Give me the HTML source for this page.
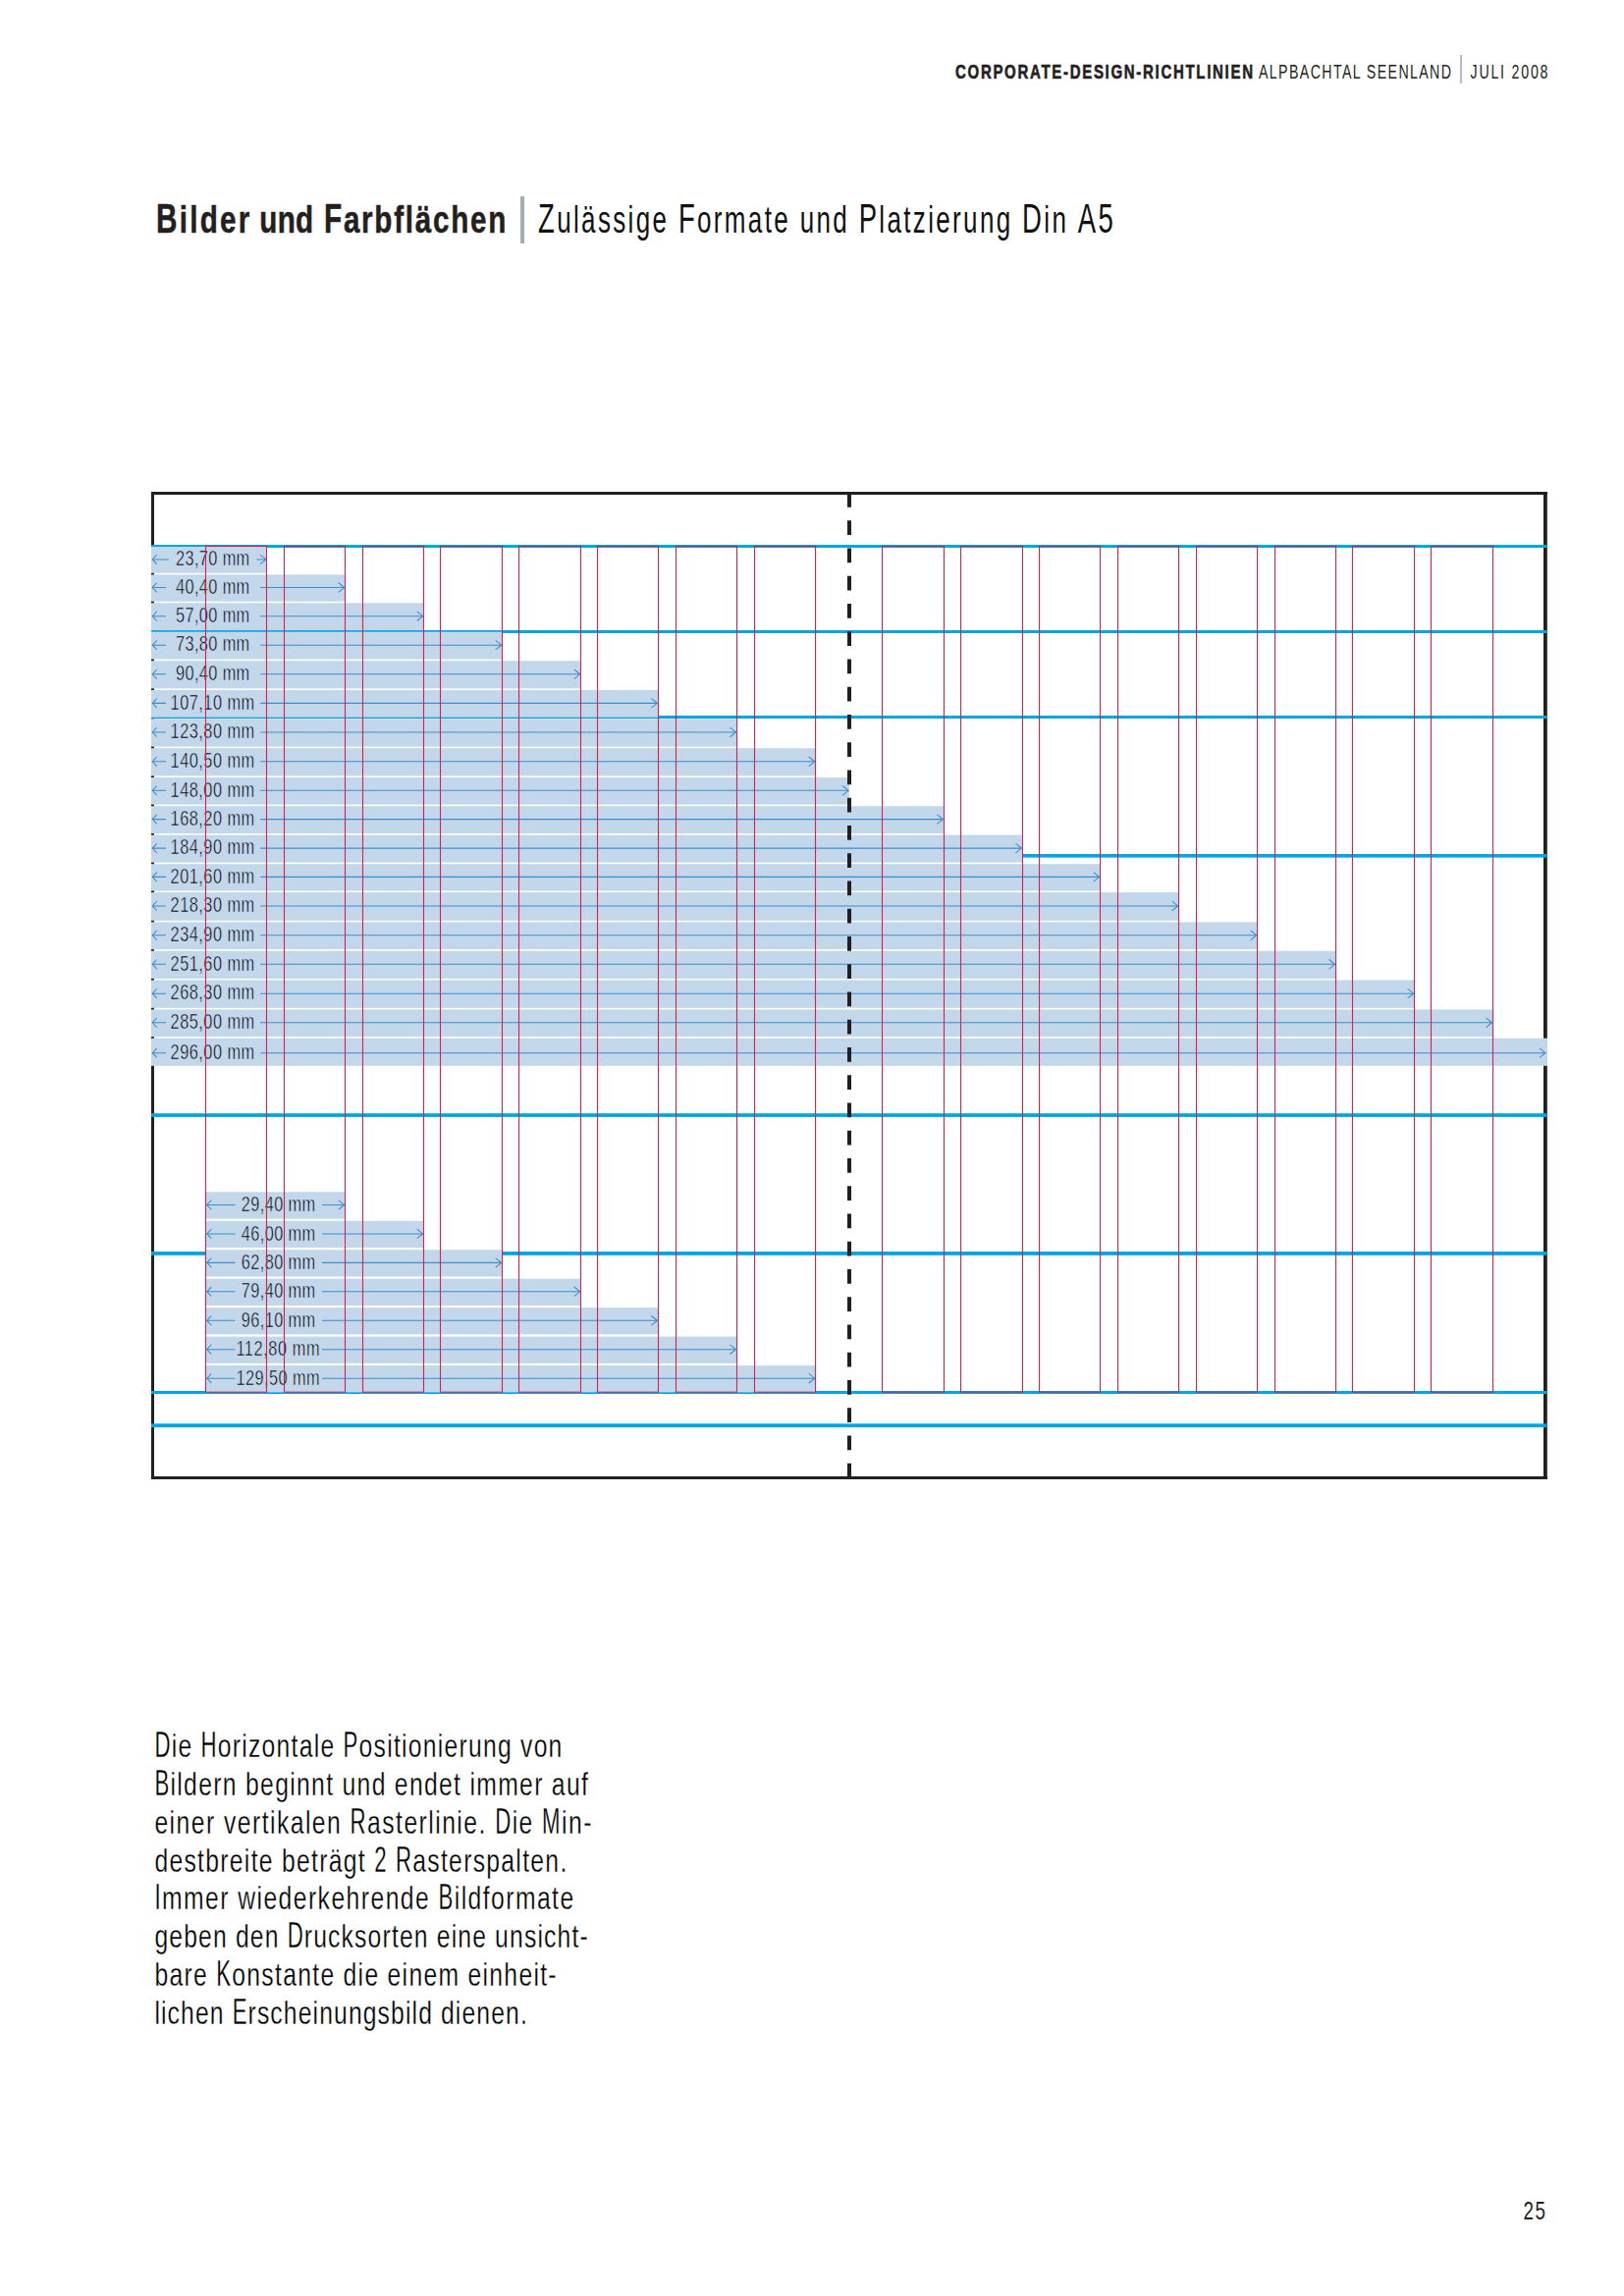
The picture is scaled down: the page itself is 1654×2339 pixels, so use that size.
<!DOCTYPE html><html><head><meta charset="utf-8"><style>html,body{margin:0;padding:0;background:#fff;}svg{display:block;}text{font-family:"Liberation Sans",sans-serif;}</style></head><body>
<svg width="1654" height="2339" viewBox="0 0 1654 2339">
<rect x="0" y="0" width="1654" height="2339" fill="#fff"/>
<text transform="translate(973.0 79.8) scale(0.75 1)" font-size="20" font-weight="bold" fill="#231f20" textLength="404.00" lengthAdjust="spacing" stroke="#231f20" stroke-width="0.6">CORPORATE-DESIGN-RICHTLINIEN</text>
<text transform="translate(1282.0 79.8) scale(0.71 1)" font-size="20" font-weight="normal" fill="#231f20" textLength="276.06" lengthAdjust="spacing" >ALPBACHTAL SEENLAND</text>
<rect x="1487.2" y="56" width="1.6" height="29" fill="#a3adb5"/>
<text transform="translate(1497.5 79.8) scale(0.71 1)" font-size="20" font-weight="normal" fill="#231f20" textLength="111.27" lengthAdjust="spacing" >JULI 2008</text>
<text transform="translate(159.00 237.0) scale(0.708 1)" font-size="42" font-weight="bold" fill="#231f20" xml:space="preserve" style="white-space:pre" stroke="#231f20" stroke-width="0.5">B</text>
<text transform="translate(182.74 237.0) scale(0.779 1)" font-size="38" font-weight="bold" fill="#231f20" textLength="91.90" lengthAdjust="spacing" xml:space="preserve" style="white-space:pre" stroke="#231f20" stroke-width="0.5">ilder</text>
<text transform="translate(264.30 237.0) scale(0.779 1)" font-size="38" font-weight="bold" fill="#231f20" textLength="70.31" lengthAdjust="spacing" xml:space="preserve" style="white-space:pre" stroke="#231f20" stroke-width="0.5">und</text>
<text transform="translate(330.00 237.0) scale(0.708 1)" font-size="42" font-weight="bold" fill="#231f20" xml:space="preserve" style="white-space:pre" stroke="#231f20" stroke-width="0.5">F</text>
<text transform="translate(349.90 237.0) scale(0.779 1)" font-size="38" font-weight="bold" fill="#231f20" textLength="212.28" lengthAdjust="spacing" xml:space="preserve" style="white-space:pre" stroke="#231f20" stroke-width="0.5">arbflächen</text>
<rect x="530" y="200" width="4" height="48" fill="#a3adb5"/>
<text transform="translate(548.00 237.0) scale(0.655 1)" font-size="42" font-weight="normal" fill="#111" xml:space="preserve" style="white-space:pre" >Z</text>
<text transform="translate(567.15 237.0) scale(0.684 1)" font-size="38" font-weight="normal" fill="#111" textLength="177.47" lengthAdjust="spacing" xml:space="preserve" style="white-space:pre" >ulässige </text>
<text transform="translate(690.90 237.0) scale(0.655 1)" font-size="42" font-weight="normal" fill="#111" xml:space="preserve" style="white-space:pre" >F</text>
<text transform="translate(710.05 237.0) scale(0.684 1)" font-size="38" font-weight="normal" fill="#111" textLength="237.19" lengthAdjust="spacing" xml:space="preserve" style="white-space:pre" >ormate und </text>
<text transform="translate(874.63 237.0) scale(0.655 1)" font-size="42" font-weight="normal" fill="#111" xml:space="preserve" style="white-space:pre" >P</text>
<text transform="translate(895.33 237.0) scale(0.684 1)" font-size="38" font-weight="normal" fill="#111" textLength="209.70" lengthAdjust="spacing" xml:space="preserve" style="white-space:pre" >latzierung </text>
<text transform="translate(1041.12 237.0) scale(0.655 1)" font-size="42" font-weight="normal" fill="#111" xml:space="preserve" style="white-space:pre" >D</text>
<text transform="translate(1063.33 237.0) scale(0.684 1)" font-size="38" font-weight="normal" fill="#111" textLength="47.01" lengthAdjust="spacing" xml:space="preserve" style="white-space:pre" >in </text>
<text transform="translate(1097.84 237.0) scale(0.655 1)" font-size="42" font-weight="normal" fill="#111" textLength="54.96" lengthAdjust="spacing" xml:space="preserve" style="white-space:pre" >A5</text>
<rect x="154" y="501" width="1422" height="3" fill="#231f20"/>
<rect x="154" y="1504" width="1422" height="3" fill="#231f20"/>
<rect x="154" y="501" width="3" height="1006" fill="#231f20"/>
<rect x="1572" y="501" width="3.8" height="1006" fill="#231f20"/>
<rect x="154" y="555" width="1421.5" height="3" fill="#00a5e3"/>
<rect x="154" y="642" width="1421.5" height="3" fill="#00a5e3"/>
<rect x="154" y="729" width="1421.5" height="3" fill="#00a5e3"/>
<rect x="154" y="870" width="1421.5" height="3.6" fill="#00a5e3"/>
<rect x="154" y="1134.2" width="1421.5" height="3.7" fill="#00a5e3"/>
<rect x="154" y="1275" width="1421.5" height="3.8" fill="#00a5e3"/>
<rect x="154" y="1417" width="1421.5" height="3" fill="#00a5e3"/>
<rect x="154" y="1450.3" width="1421.5" height="3.8" fill="#00a5e3"/>
<rect x="154" y="557.0" width="117.75" height="26.799999999999955" fill="#c3d7ea"/>
<rect x="154" y="585.4" width="197.5" height="27.299999999999955" fill="#c3d7ea"/>
<rect x="154" y="614.3" width="277.5" height="27.800000000000068" fill="#c3d7ea"/>
<rect x="154" y="643.7" width="357.5" height="27.899999999999977" fill="#c3d7ea"/>
<rect x="154" y="673.2" width="437.5" height="28.199999999999932" fill="#c3d7ea"/>
<rect x="154" y="703" width="516.25" height="27.699999999999932" fill="#c3d7ea"/>
<rect x="154" y="732.3" width="596.25" height="28.300000000000068" fill="#c3d7ea"/>
<rect x="154" y="762.2" width="676.5" height="28.199999999999932" fill="#c3d7ea"/>
<rect x="154" y="792" width="711" height="27.600000000000023" fill="#c3d7ea"/>
<rect x="154" y="821.2" width="807.25" height="27.799999999999955" fill="#c3d7ea"/>
<rect x="154" y="850.6" width="887.25" height="28.0" fill="#c3d7ea"/>
<rect x="154" y="880.2" width="966.5" height="27.299999999999955" fill="#c3d7ea"/>
<rect x="154" y="909.1" width="1046.5" height="28.699999999999932" fill="#c3d7ea"/>
<rect x="154" y="939.4" width="1126.5" height="27.700000000000045" fill="#c3d7ea"/>
<rect x="154" y="968.7" width="1206.4" height="28.199999999999932" fill="#c3d7ea"/>
<rect x="154" y="998.5" width="1286.5" height="28.300000000000182" fill="#c3d7ea"/>
<rect x="154" y="1028.4" width="1366.3" height="27.700000000000045" fill="#c3d7ea"/>
<rect x="154" y="1057.7" width="1422" height="28.09999999999991" fill="#c3d7ea"/>
<rect x="209.5" y="1214.30" width="142.0" height="27.30" fill="#c3d7ea"/>
<rect x="209.5" y="1243.75" width="222.0" height="27.30" fill="#c3d7ea"/>
<rect x="209.5" y="1273.21" width="302.0" height="27.30" fill="#c3d7ea"/>
<rect x="209.5" y="1302.66" width="382.0" height="27.30" fill="#c3d7ea"/>
<rect x="209.5" y="1332.12" width="460.75" height="27.30" fill="#c3d7ea"/>
<rect x="209.5" y="1361.57" width="540.75" height="27.30" fill="#c3d7ea"/>
<rect x="209.5" y="1391.03" width="621.0" height="27.30" fill="#c3d7ea"/>
<g stroke="#3b8fca" stroke-width="1.05" fill="none"><path d="M155.2 569.90 L172 569.90 M159.8 565.10 L155.2 569.90 L159.8 574.70"/><path d="M261.3 569.90 L270.95 569.90 M264.95 565.10 L270.95 569.90 L264.95 574.70"/></g>
<text transform="translate(179.0 576.1) scale(0.77 1)" font-size="21.2" font-weight="normal" fill="#000" textLength="97.66" lengthAdjust="spacing" stroke="#c3d7ea" stroke-width="0.5">23,70 mm</text>
<g stroke="#3b8fca" stroke-width="1.05" fill="none"><path d="M155.2 598.55 L169.0 598.55 M159.8 593.75 L155.2 598.55 L159.8 603.35"/><path d="M265.2 598.55 L350.7 598.55 M344.7 593.75 L350.7 598.55 L344.7 603.35"/></g>
<text transform="translate(179.0 604.75) scale(0.77 1)" font-size="21.2" font-weight="normal" fill="#000" textLength="97.66" lengthAdjust="spacing" stroke="#c3d7ea" stroke-width="0.5">40,40 mm</text>
<g stroke="#3b8fca" stroke-width="1.05" fill="none"><path d="M155.2 627.70 L169.0 627.70 M159.8 622.90 L155.2 627.70 L159.8 632.50"/><path d="M265.2 627.70 L430.7 627.70 M424.7 622.90 L430.7 627.70 L424.7 632.50"/></g>
<text transform="translate(179.0 633.9) scale(0.77 1)" font-size="21.2" font-weight="normal" fill="#000" textLength="97.66" lengthAdjust="spacing" stroke="#c3d7ea" stroke-width="0.5">57,00 mm</text>
<g stroke="#3b8fca" stroke-width="1.05" fill="none"><path d="M155.2 657.15 L169.0 657.15 M159.8 652.35 L155.2 657.15 L159.8 661.95"/><path d="M265.2 657.15 L510.7 657.15 M504.7 652.35 L510.7 657.15 L504.7 661.95"/></g>
<text transform="translate(179.0 663.35) scale(0.77 1)" font-size="21.2" font-weight="normal" fill="#000" textLength="97.66" lengthAdjust="spacing" stroke="#c3d7ea" stroke-width="0.5">73,80 mm</text>
<g stroke="#3b8fca" stroke-width="1.05" fill="none"><path d="M155.2 686.80 L169.0 686.80 M159.8 682.00 L155.2 686.80 L159.8 691.60"/><path d="M265.2 686.80 L590.7 686.80 M584.7 682.00 L590.7 686.80 L584.7 691.60"/></g>
<text transform="translate(179.0 693.0) scale(0.77 1)" font-size="21.2" font-weight="normal" fill="#000" textLength="97.66" lengthAdjust="spacing" stroke="#c3d7ea" stroke-width="0.5">90,40 mm</text>
<g stroke="#3b8fca" stroke-width="1.05" fill="none"><path d="M155.2 716.35 L169.0 716.35 M159.8 711.55 L155.2 716.35 L159.8 721.15"/><path d="M265.2 716.35 L669.45 716.35 M663.45 711.55 L669.45 716.35 L663.45 721.15"/></g>
<text transform="translate(173.6 722.55) scale(0.77 1)" font-size="21.2" font-weight="normal" fill="#000" textLength="111.17" lengthAdjust="spacing" stroke="#c3d7ea" stroke-width="0.5">107,10 mm</text>
<g stroke="#3b8fca" stroke-width="1.05" fill="none"><path d="M155.2 745.95 L169.0 745.95 M159.8 741.15 L155.2 745.95 L159.8 750.75"/><path d="M265.2 745.95 L749.45 745.95 M743.45 741.15 L749.45 745.95 L743.45 750.75"/></g>
<text transform="translate(173.6 752.15) scale(0.77 1)" font-size="21.2" font-weight="normal" fill="#000" textLength="111.17" lengthAdjust="spacing" stroke="#c3d7ea" stroke-width="0.5">123,80 mm</text>
<g stroke="#3b8fca" stroke-width="1.05" fill="none"><path d="M155.2 775.80 L169.0 775.80 M159.8 771.00 L155.2 775.80 L159.8 780.60"/><path d="M265.2 775.80 L829.7 775.80 M823.7 771.00 L829.7 775.80 L823.7 780.60"/></g>
<text transform="translate(173.6 782.0) scale(0.77 1)" font-size="21.2" font-weight="normal" fill="#000" textLength="111.17" lengthAdjust="spacing" stroke="#c3d7ea" stroke-width="0.5">140,50 mm</text>
<g stroke="#3b8fca" stroke-width="1.05" fill="none"><path d="M155.2 805.30 L169.0 805.30 M159.8 800.50 L155.2 805.30 L159.8 810.10"/><path d="M265.2 805.30 L864.2 805.30 M858.2 800.50 L864.2 805.30 L858.2 810.10"/></g>
<text transform="translate(173.6 811.5) scale(0.77 1)" font-size="21.2" font-weight="normal" fill="#000" textLength="111.17" lengthAdjust="spacing" stroke="#c3d7ea" stroke-width="0.5">148,00 mm</text>
<g stroke="#3b8fca" stroke-width="1.05" fill="none"><path d="M155.2 834.60 L169.0 834.60 M159.8 829.80 L155.2 834.60 L159.8 839.40"/><path d="M265.2 834.60 L960.45 834.60 M954.45 829.80 L960.45 834.60 L954.45 839.40"/></g>
<text transform="translate(173.6 840.8) scale(0.77 1)" font-size="21.2" font-weight="normal" fill="#000" textLength="111.17" lengthAdjust="spacing" stroke="#c3d7ea" stroke-width="0.5">168,20 mm</text>
<g stroke="#3b8fca" stroke-width="1.05" fill="none"><path d="M155.2 864.10 L169.0 864.10 M159.8 859.30 L155.2 864.10 L159.8 868.90"/><path d="M265.2 864.10 L1040.45 864.10 M1034.45 859.30 L1040.45 864.10 L1034.45 868.90"/></g>
<text transform="translate(173.6 870.3) scale(0.77 1)" font-size="21.2" font-weight="normal" fill="#000" textLength="111.17" lengthAdjust="spacing" stroke="#c3d7ea" stroke-width="0.5">184,90 mm</text>
<g stroke="#3b8fca" stroke-width="1.05" fill="none"><path d="M155.2 893.35 L169.0 893.35 M159.8 888.55 L155.2 893.35 L159.8 898.15"/><path d="M265.2 893.35 L1119.7 893.35 M1113.7 888.55 L1119.7 893.35 L1113.7 898.15"/></g>
<text transform="translate(173.6 899.55) scale(0.77 1)" font-size="21.2" font-weight="normal" fill="#000" textLength="111.17" lengthAdjust="spacing" stroke="#c3d7ea" stroke-width="0.5">201,60 mm</text>
<g stroke="#3b8fca" stroke-width="1.05" fill="none"><path d="M155.2 922.95 L169.0 922.95 M159.8 918.15 L155.2 922.95 L159.8 927.75"/><path d="M265.2 922.95 L1199.7 922.95 M1193.7 918.15 L1199.7 922.95 L1193.7 927.75"/></g>
<text transform="translate(173.6 929.15) scale(0.77 1)" font-size="21.2" font-weight="normal" fill="#000" textLength="111.17" lengthAdjust="spacing" stroke="#c3d7ea" stroke-width="0.5">218,30 mm</text>
<g stroke="#3b8fca" stroke-width="1.05" fill="none"><path d="M155.2 952.75 L169.0 952.75 M159.8 947.95 L155.2 952.75 L159.8 957.55"/><path d="M265.2 952.75 L1279.7 952.75 M1273.7 947.95 L1279.7 952.75 L1273.7 957.55"/></g>
<text transform="translate(173.6 958.95) scale(0.77 1)" font-size="21.2" font-weight="normal" fill="#000" textLength="111.17" lengthAdjust="spacing" stroke="#c3d7ea" stroke-width="0.5">234,90 mm</text>
<g stroke="#3b8fca" stroke-width="1.05" fill="none"><path d="M155.2 982.30 L169.0 982.30 M159.8 977.50 L155.2 982.30 L159.8 987.10"/><path d="M265.2 982.30 L1359.6000000000001 982.30 M1353.6000000000001 977.50 L1359.6000000000001 982.30 L1353.6000000000001 987.10"/></g>
<text transform="translate(173.6 988.5) scale(0.77 1)" font-size="21.2" font-weight="normal" fill="#000" textLength="111.17" lengthAdjust="spacing" stroke="#c3d7ea" stroke-width="0.5">251,60 mm</text>
<g stroke="#3b8fca" stroke-width="1.05" fill="none"><path d="M155.2 1012.15 L169.0 1012.15 M159.8 1007.35 L155.2 1012.15 L159.8 1016.95"/><path d="M265.2 1012.15 L1439.7 1012.15 M1433.7 1007.35 L1439.7 1012.15 L1433.7 1016.95"/></g>
<text transform="translate(173.6 1018.35) scale(0.77 1)" font-size="21.2" font-weight="normal" fill="#000" textLength="111.17" lengthAdjust="spacing" stroke="#c3d7ea" stroke-width="0.5">268,30 mm</text>
<g stroke="#3b8fca" stroke-width="1.05" fill="none"><path d="M155.2 1041.75 L169.0 1041.75 M159.8 1036.95 L155.2 1041.75 L159.8 1046.55"/><path d="M265.2 1041.75 L1519.5 1041.75 M1513.5 1036.95 L1519.5 1041.75 L1513.5 1046.55"/></g>
<text transform="translate(173.6 1047.95) scale(0.77 1)" font-size="21.2" font-weight="normal" fill="#000" textLength="111.17" lengthAdjust="spacing" stroke="#c3d7ea" stroke-width="0.5">285,00 mm</text>
<g stroke="#3b8fca" stroke-width="1.05" fill="none"><path d="M155.2 1072.65 L169.0 1072.65 M159.8 1067.85 L155.2 1072.65 L159.8 1077.45"/><path d="M265.2 1072.65 L1574.0 1072.65 M1568.0 1067.85 L1574.0 1072.65 L1568.0 1077.45"/></g>
<text transform="translate(173.6 1078.85) scale(0.77 1)" font-size="21.2" font-weight="normal" fill="#000" textLength="111.17" lengthAdjust="spacing" stroke="#c3d7ea" stroke-width="0.5">296,00 mm</text>
<g stroke="#3b8fca" stroke-width="1.05" fill="none"><path d="M210.7 1227.45 L239.5 1227.45 M215.3 1222.65 L210.7 1227.45 L215.3 1232.25"/><path d="M328 1227.45 L350.7 1227.45 M344.7 1222.65 L350.7 1227.45 L344.7 1232.25"/></g>
<text transform="translate(245.8 1234.05) scale(0.77 1)" font-size="21.2" font-weight="normal" fill="#000" textLength="97.92" lengthAdjust="spacing" stroke="#c3d7ea" stroke-width="0.5">29,40 mm</text>
<g stroke="#3b8fca" stroke-width="1.05" fill="none"><path d="M210.7 1256.90 L239.5 1256.90 M215.3 1252.10 L210.7 1256.90 L215.3 1261.70"/><path d="M328 1256.90 L430.7 1256.90 M424.7 1252.10 L430.7 1256.90 L424.7 1261.70"/></g>
<text transform="translate(245.8 1263.5) scale(0.77 1)" font-size="21.2" font-weight="normal" fill="#000" textLength="97.92" lengthAdjust="spacing" stroke="#c3d7ea" stroke-width="0.5">46,00 mm</text>
<g stroke="#3b8fca" stroke-width="1.05" fill="none"><path d="M210.7 1286.36 L239.5 1286.36 M215.3 1281.56 L210.7 1286.36 L215.3 1291.16"/><path d="M328 1286.36 L510.7 1286.36 M504.7 1281.56 L510.7 1286.36 L504.7 1291.16"/></g>
<text transform="translate(245.8 1292.96) scale(0.77 1)" font-size="21.2" font-weight="normal" fill="#000" textLength="97.92" lengthAdjust="spacing" stroke="#c3d7ea" stroke-width="0.5">62,80 mm</text>
<g stroke="#3b8fca" stroke-width="1.05" fill="none"><path d="M210.7 1315.82 L239.5 1315.82 M215.3 1311.02 L210.7 1315.82 L215.3 1320.62"/><path d="M328 1315.82 L590.7 1315.82 M584.7 1311.02 L590.7 1315.82 L584.7 1320.62"/></g>
<text transform="translate(245.8 1322.41) scale(0.77 1)" font-size="21.2" font-weight="normal" fill="#000" textLength="97.92" lengthAdjust="spacing" stroke="#c3d7ea" stroke-width="0.5">79,40 mm</text>
<g stroke="#3b8fca" stroke-width="1.05" fill="none"><path d="M210.7 1345.27 L239.5 1345.27 M215.3 1340.47 L210.7 1345.27 L215.3 1350.07"/><path d="M328 1345.27 L669.45 1345.27 M663.45 1340.47 L669.45 1345.27 L663.45 1350.07"/></g>
<text transform="translate(245.8 1351.87) scale(0.77 1)" font-size="21.2" font-weight="normal" fill="#000" textLength="97.92" lengthAdjust="spacing" stroke="#c3d7ea" stroke-width="0.5">96,10 mm</text>
<g stroke="#3b8fca" stroke-width="1.05" fill="none"><path d="M210.7 1374.72 L239.5 1374.72 M215.3 1369.92 L210.7 1374.72 L215.3 1379.52"/><path d="M328 1374.72 L749.45 1374.72 M743.45 1369.92 L749.45 1374.72 L743.45 1379.52"/></g>
<text transform="translate(240.4 1381.32) scale(0.77 1)" font-size="21.2" font-weight="normal" fill="#000" textLength="110.65" lengthAdjust="spacing" stroke="#c3d7ea" stroke-width="0.5">112,80 mm</text>
<g stroke="#3b8fca" stroke-width="1.05" fill="none"><path d="M210.7 1404.18 L239.5 1404.18 M215.3 1399.38 L210.7 1404.18 L215.3 1408.98"/><path d="M328 1404.18 L829.7 1404.18 M823.7 1399.38 L829.7 1404.18 L823.7 1408.98"/></g>
<text transform="translate(240.4 1410.78) scale(0.77 1)" font-size="21.2" font-weight="normal" fill="#000" textLength="110.65" lengthAdjust="spacing" stroke="#c3d7ea" stroke-width="0.5">129,50 mm</text>
<rect x="209.5" y="556.5" width="62.0" height="861.7" fill="none" stroke="#d6224e" stroke-width="1.1"/>
<rect x="289.5" y="556.5" width="62.0" height="861.7" fill="none" stroke="#d6224e" stroke-width="1.1"/>
<rect x="369.5" y="556.5" width="62.0" height="861.7" fill="none" stroke="#d6224e" stroke-width="1.1"/>
<rect x="448.5" y="556.5" width="63.0" height="861.7" fill="none" stroke="#d6224e" stroke-width="1.1"/>
<rect x="528.5" y="556.5" width="63.0" height="861.7" fill="none" stroke="#d6224e" stroke-width="1.1"/>
<rect x="608.5" y="556.5" width="62.0" height="861.7" fill="none" stroke="#d6224e" stroke-width="1.1"/>
<rect x="688.5" y="556.5" width="62.0" height="861.7" fill="none" stroke="#d6224e" stroke-width="1.1"/>
<rect x="768.5" y="556.5" width="62.0" height="861.7" fill="none" stroke="#d6224e" stroke-width="1.1"/>
<rect x="898.5" y="556.5" width="63.0" height="861.7" fill="none" stroke="#d6224e" stroke-width="1.1"/>
<rect x="978.5" y="556.5" width="63.0" height="861.7" fill="none" stroke="#d6224e" stroke-width="1.1"/>
<rect x="1058.5" y="556.5" width="62.0" height="861.7" fill="none" stroke="#d6224e" stroke-width="1.1"/>
<rect x="1138.5" y="556.5" width="62.0" height="861.7" fill="none" stroke="#d6224e" stroke-width="1.1"/>
<rect x="1218.5" y="556.5" width="62.0" height="861.7" fill="none" stroke="#d6224e" stroke-width="1.1"/>
<rect x="1298.5" y="556.5" width="62.0" height="861.7" fill="none" stroke="#d6224e" stroke-width="1.1"/>
<rect x="1377.5" y="556.5" width="63.0" height="861.7" fill="none" stroke="#d6224e" stroke-width="1.1"/>
<rect x="1457.5" y="556.5" width="63.0" height="861.7" fill="none" stroke="#d6224e" stroke-width="1.1"/>
<line x1="865" y1="502" x2="865" y2="1506" stroke="#231f20" stroke-width="4" stroke-dasharray="14.7 13.55" stroke-dashoffset="0"/>
<text transform="translate(157.40 1789.8) scale(0.603 1)" font-size="36.8" font-weight="normal" fill="#000" xml:space="preserve" style="white-space:pre" stroke="#fff" stroke-width="0.3">D</text>
<text transform="translate(174.67 1789.8) scale(0.765 1)" font-size="32.3" font-weight="normal" fill="#000" textLength="37.37" lengthAdjust="spacing" xml:space="preserve" style="white-space:pre" stroke="#fff" stroke-width="0.3">ie </text>
<text transform="translate(204.51 1789.8) scale(0.603 1)" font-size="36.8" font-weight="normal" fill="#000" xml:space="preserve" style="white-space:pre" stroke="#fff" stroke-width="0.3">H</text>
<text transform="translate(221.79 1789.8) scale(0.765 1)" font-size="32.3" font-weight="normal" fill="#000" textLength="165.34" lengthAdjust="spacing" xml:space="preserve" style="white-space:pre" stroke="#fff" stroke-width="0.3">orizontale </text>
<text transform="translate(349.52 1789.8) scale(0.603 1)" font-size="36.8" font-weight="normal" fill="#000" xml:space="preserve" style="white-space:pre" stroke="#fff" stroke-width="0.3">P</text>
<text transform="translate(365.57 1789.8) scale(0.765 1)" font-size="32.3" font-weight="normal" fill="#000" textLength="270.33" lengthAdjust="spacing" xml:space="preserve" style="white-space:pre" stroke="#fff" stroke-width="0.3">ositionierung von</text>
<text transform="translate(157.40 1828.7) scale(0.603 1)" font-size="36.8" font-weight="normal" fill="#000" xml:space="preserve" style="white-space:pre" stroke="#fff" stroke-width="0.3">B</text>
<text transform="translate(173.52 1828.7) scale(0.765 1)" font-size="32.3" font-weight="normal" fill="#000" textLength="556.02" lengthAdjust="spacing" xml:space="preserve" style="white-space:pre" stroke="#fff" stroke-width="0.3">ildern beginnt und endet immer auf</text>
<text transform="translate(157.40 1867.6) scale(0.765 1)" font-size="32.3" font-weight="normal" fill="#000" textLength="258.47" lengthAdjust="spacing" xml:space="preserve" style="white-space:pre" stroke="#fff" stroke-width="0.3">einer vertikalen </text>
<text transform="translate(356.59 1867.6) scale(0.603 1)" font-size="36.8" font-weight="normal" fill="#000" xml:space="preserve" style="white-space:pre" stroke="#fff" stroke-width="0.3">R</text>
<text transform="translate(374.07 1867.6) scale(0.765 1)" font-size="32.3" font-weight="normal" fill="#000" textLength="168.14" lengthAdjust="spacing" xml:space="preserve" style="white-space:pre" stroke="#fff" stroke-width="0.3">asterlinie. </text>
<text transform="translate(504.15 1867.6) scale(0.603 1)" font-size="36.8" font-weight="normal" fill="#000" xml:space="preserve" style="white-space:pre" stroke="#fff" stroke-width="0.3">D</text>
<text transform="translate(521.64 1867.6) scale(0.765 1)" font-size="32.3" font-weight="normal" fill="#000" textLength="37.92" lengthAdjust="spacing" xml:space="preserve" style="white-space:pre" stroke="#fff" stroke-width="0.3">ie </text>
<text transform="translate(552.10 1867.6) scale(0.603 1)" font-size="36.8" font-weight="normal" fill="#000" xml:space="preserve" style="white-space:pre" stroke="#fff" stroke-width="0.3">M</text>
<text transform="translate(572.04 1867.6) scale(0.765 1)" font-size="32.3" font-weight="normal" fill="#000" textLength="39.70" lengthAdjust="spacing" xml:space="preserve" style="white-space:pre" stroke="#fff" stroke-width="0.3">in-</text>
<text transform="translate(157.40 1906.5) scale(0.765 1)" font-size="32.3" font-weight="normal" fill="#000" textLength="290.80" lengthAdjust="spacing" xml:space="preserve" style="white-space:pre" stroke="#fff" stroke-width="0.3">destbreite beträgt </text>
<text transform="translate(381.15 1906.5) scale(0.603 1)" font-size="36.8" font-weight="normal" fill="#000" xml:space="preserve" style="white-space:pre" stroke="#fff" stroke-width="0.3">2</text>
<text transform="translate(394.79 1906.5) scale(0.765 1)" font-size="32.3" font-weight="normal" fill="#000" xml:space="preserve" style="white-space:pre" stroke="#fff" stroke-width="0.3"> </text>
<text transform="translate(402.94 1906.5) scale(0.603 1)" font-size="36.8" font-weight="normal" fill="#000" xml:space="preserve" style="white-space:pre" stroke="#fff" stroke-width="0.3">R</text>
<text transform="translate(420.26 1906.5) scale(0.765 1)" font-size="32.3" font-weight="normal" fill="#000" textLength="205.24" lengthAdjust="spacing" xml:space="preserve" style="white-space:pre" stroke="#fff" stroke-width="0.3">asterspalten.</text>
<text transform="translate(157.40 1945.4) scale(0.603 1)" font-size="36.8" font-weight="normal" fill="#000" xml:space="preserve" style="white-space:pre" stroke="#fff" stroke-width="0.3">I</text>
<text transform="translate(165.00 1945.4) scale(0.765 1)" font-size="32.3" font-weight="normal" fill="#000" textLength="366.09" lengthAdjust="spacing" xml:space="preserve" style="white-space:pre" stroke="#fff" stroke-width="0.3">mmer wiederkehrende </text>
<text transform="translate(446.50 1945.4) scale(0.603 1)" font-size="36.8" font-weight="normal" fill="#000" xml:space="preserve" style="white-space:pre" stroke="#fff" stroke-width="0.3">B</text>
<text transform="translate(462.74 1945.4) scale(0.765 1)" font-size="32.3" font-weight="normal" fill="#000" textLength="158.74" lengthAdjust="spacing" xml:space="preserve" style="white-space:pre" stroke="#fff" stroke-width="0.3">ildformate</text>
<text transform="translate(157.40 1984.3) scale(0.765 1)" font-size="32.3" font-weight="normal" fill="#000" textLength="175.27" lengthAdjust="spacing" xml:space="preserve" style="white-space:pre" stroke="#fff" stroke-width="0.3">geben den </text>
<text transform="translate(292.63 1984.3) scale(0.603 1)" font-size="36.8" font-weight="normal" fill="#000" xml:space="preserve" style="white-space:pre" stroke="#fff" stroke-width="0.3">D</text>
<text transform="translate(309.81 1984.3) scale(0.765 1)" font-size="32.3" font-weight="normal" fill="#000" textLength="377.64" lengthAdjust="spacing" xml:space="preserve" style="white-space:pre" stroke="#fff" stroke-width="0.3">rucksorten eine unsicht-</text>
<text transform="translate(157.40 2023.2) scale(0.765 1)" font-size="32.3" font-weight="normal" fill="#000" textLength="80.38" lengthAdjust="spacing" xml:space="preserve" style="white-space:pre" stroke="#fff" stroke-width="0.3">bare </text>
<text transform="translate(220.19 2023.2) scale(0.603 1)" font-size="36.8" font-weight="normal" fill="#000" xml:space="preserve" style="white-space:pre" stroke="#fff" stroke-width="0.3">K</text>
<text transform="translate(236.28 2023.2) scale(0.765 1)" font-size="32.3" font-weight="normal" fill="#000" textLength="431.80" lengthAdjust="spacing" xml:space="preserve" style="white-space:pre" stroke="#fff" stroke-width="0.3">onstante die einem einheit-</text>
<text transform="translate(157.40 2062.1) scale(0.765 1)" font-size="32.3" font-weight="normal" fill="#000" textLength="102.13" lengthAdjust="spacing" xml:space="preserve" style="white-space:pre" stroke="#fff" stroke-width="0.3">lichen </text>
<text transform="translate(236.64 2062.1) scale(0.603 1)" font-size="36.8" font-weight="normal" fill="#000" xml:space="preserve" style="white-space:pre" stroke="#fff" stroke-width="0.3">E</text>
<text transform="translate(252.56 2062.1) scale(0.765 1)" font-size="32.3" font-weight="normal" fill="#000" textLength="371.52" lengthAdjust="spacing" xml:space="preserve" style="white-space:pre" stroke="#fff" stroke-width="0.3">rscheinungsbild dienen.</text>
<text transform="translate(1551.5 2260.8) scale(0.75 1)" font-size="25" font-weight="normal" fill="#231f20" textLength="30.00" lengthAdjust="spacing" >25</text>
</svg></body></html>
